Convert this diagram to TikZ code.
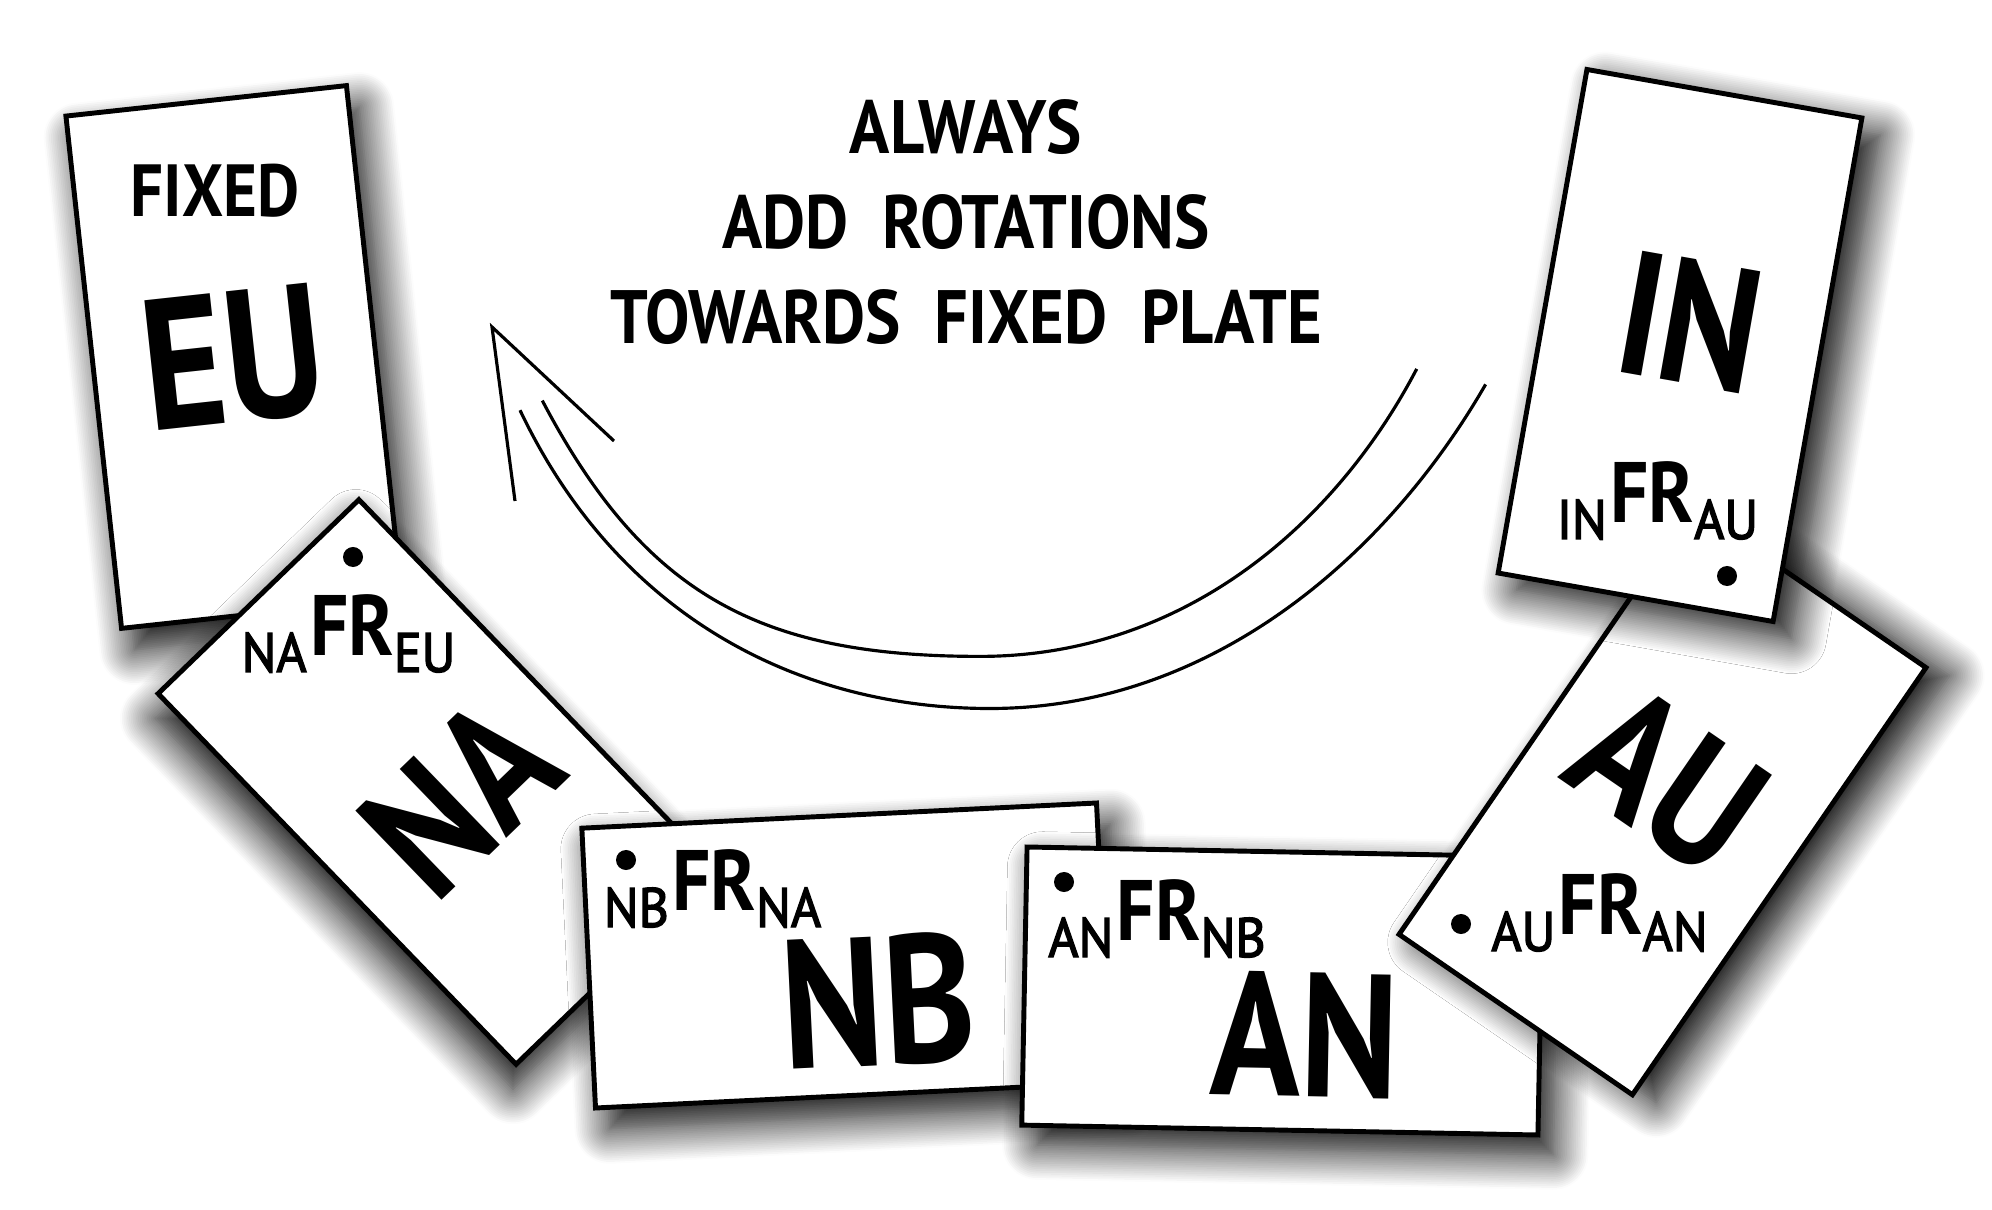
\documentclass[tikz,border=0pt]{standalone}
\usepackage{fontspec}
\setmainfont{PT Sans}
\newfontfamily\platefont[FakeStretch=0.85]{PT Sans}
\newfontfamily\rulefont[FakeStretch=0.88]{PT Sans}
\newfontfamily\frfont[FakeStretch=0.88]{PT Sans}
\newfontfamily\labelfont[FakeStretch=0.93, FakeBold=2.5]{PT Sans}
\usetikzlibrary{shadows.blur}

% relative-rotation tag: sub FR sub
\newcommand{\frtag}[2]{{\labelfont\fontsize{15.8}{16}\selectfont #1}\kern1pt\raisebox{4.8pt}{\frfont\bfseries\fontsize{24.4}{25}\selectfont FR}{\labelfont\fontsize{15.8}{16}\selectfont #2}}

\begin{document}
\begin{tikzpicture}[x=0.01cm, y=-0.01cm,
        plate/.style={rectangle, draw=black, line width=1.4pt, fill=white, inner sep=0pt, rotate=#1,
            blur shadow={shadow xshift={1.5mm*cos(#1)-2mm*sin(#1)}, shadow yshift={-1.5mm*sin(#1)-2mm*cos(#1)},
                shadow blur radius=3.5mm, shadow blur steps=20, shadow opacity=100}},
        big/.style={inner sep=0pt, font=\platefont\bfseries\fontsize{#1}{#1}\selectfont},
        big/.default=50,
        tag/.style={anchor=base, inner sep=0pt},
        hole/.style={circle, fill=black, inner sep=0pt, minimum size=0.2cm},
        turn/.style={line width=0.9pt},
    ]
    \useasboundingbox (0,0) rectangle (1992,1210);

    % rule and rotation arrow
    \node[font=\rulefont\bfseries\fontsize{21.5}{27}\selectfont, align=center, inner sep=0pt] (rule) at (966,222)
    {ALWAYS\\ADD\ \ ROTATIONS\\TOWARDS\ \ FIXED\ \ PLATE};
    \coordinate (innerend) at (1416.7,368.9);
    \coordinate (innerlow) at (980,656.4);
    \coordinate (innerstart) at (542.3,400.6);
    \coordinate (outerend) at (1485.6,384.4);
    \coordinate (outerlow) at (990,708.5);
    \coordinate (outerstart) at (520,410.2);
    \draw[turn] (innerend) .. controls (1333.2,528.4) and (1180,656.4) .. (innerlow)
        .. controls (760,656.4) and (644.8,595.3) .. (innerstart);
    \draw[turn] (outerend) .. controls (1385.8,557.6) and (1210,708.5) .. (outerlow)
        .. controls (800,708.5) and (618.9,617.9) .. (outerstart);
    \coordinate (tip) at (492,327);
    \draw[turn] (614,441) -- (tip) -- (515,501);

    % EU
    \node[plate=6.2, minimum width=2.82cm, minimum height=5.15cm] (euplate) at (234,357) {};
    \node[inner sep=0pt, font=\rulefont\bfseries\fontsize{21}{21}\selectfont] (fixed) at (215,191) {FIXED};
    \node[big=53, rotate=6.2] (eu) at (233,358) {EU};

    % NA
    \node[plate=44, minimum width=2.79cm, minimum height=5.15cm] (naplate) at (437.5,782) {};
    \node[hole] (nahole) at (353,557) {};
    \node[tag] (natag) at (348.5,672) {\frtag{NA}{EU}};
    \node[big, rotate=44] (na) at (461,797) {NA};

    % NB
    \node[plate=2.8, minimum width=5.15cm, minimum height=2.80cm] (nbplate) at (846,955.5) {};
    \node[hole] (nbhole) at (626,860) {};
    \node[tag] (nbtag) at (712.5,927) {\frtag{NB}{NA}};
    \node[big=52, rotate=2.8] (nb) at (878,1001) {NB};

    % AN
    \node[plate=-1.1, minimum width=5.16cm, minimum height=2.78cm] (anplate) at (1282.5,991) {};
    \node[hole] (anhole) at (1064,882) {};
    \node[tag] (antag) at (1157,957) {\frtag{AN}{NB}};
    \node[big, rotate=-1.1] (an) at (1305,1035) {AN};

    % AU
    \node[plate=-34.5, minimum width=2.83cm, minimum height=5.18cm] (auplate) at (1662.5,801) {};
    \node[hole] (auhole) at (1461,924) {};
    \node[tag] (autag) at (1599.5,951) {\frtag{AU}{AN}};
    \node[big, rotate=-34.5] (au) at (1668,779) {AU};

    % IN
    \node[plate=-10, minimum width=2.79cm, minimum height=5.11cm] (inplate) at (1680,345.5) {};
    \node[hole] (inhole) at (1727,576) {};
    \node[tag] (intag) at (1657.5,539) {\frtag{IN}{AU}};
    \node[big, rotate=-10] (ind) at (1690,322) {IN};
\end{tikzpicture}
\end{document}
